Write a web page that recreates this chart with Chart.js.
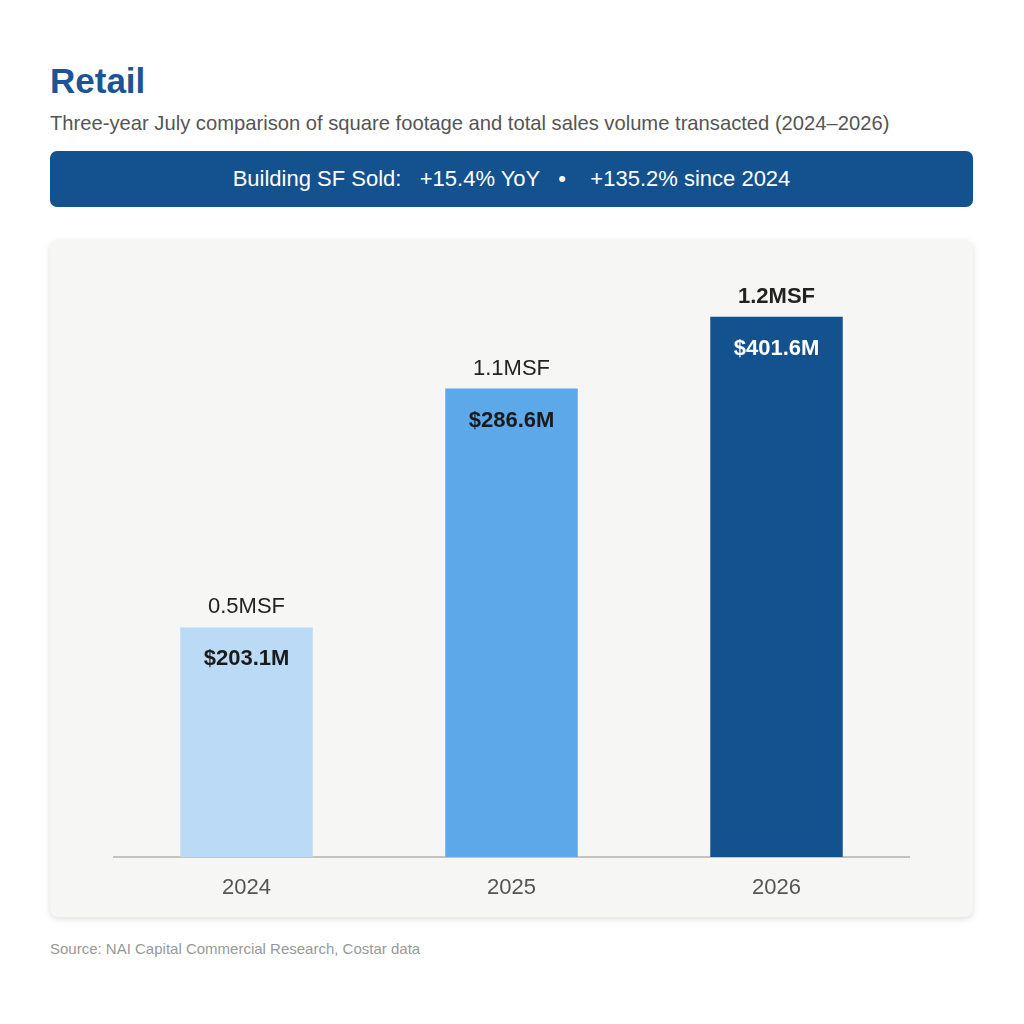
<!DOCTYPE html>
<html>
<head>
<meta charset="utf-8">
<script src="https://cdn.jsdelivr.net/npm/chart.js@4.4.1/dist/chart.umd.min.js"></script>
<style>
  body { margin: 0; background: #ffffff; font-family: "Liberation Sans", Arial, sans-serif; }
  .title { position: absolute; left: 50px; top: 63px; font-size: 35px; line-height: 1; font-weight: bold; color: #1b5596; }
  .subtitle { position: absolute; left: 50px; top: 113px; font-size: 20.2px; line-height: 1; color: #555555; }
  .banner {
    position: absolute; left: 50px; top: 151px; width: 923px; height: 56px;
    background: #13528f; border-radius: 7px; color: #ffffff; font-size: 22px;
    display: flex; align-items: center; justify-content: center; white-space: pre;
  }
  .panel {
    position: absolute; left: 50px; top: 240px; width: 923px; height: 677px;
    background: #f6f6f4; border-radius: 8px; box-shadow: 0 2px 6px rgba(0,0,0,0.13);
  }
  .panel canvas { position: absolute; left: 0; top: 0; }
  .source { position: absolute; left: 50px; top: 941px; font-size: 15px; line-height: 1; color: #999999; }
</style>
</head>
<body>
<div class="title">Retail</div>
<div class="subtitle">Three-year July comparison of square footage and total sales volume transacted (2024–2026)</div>
<div class="banner">Building SF Sold:   +15.4% YoY   •    +135.2% since 2024</div>
<div class="panel"><canvas id="chart" width="923" height="677"></canvas></div>
<div class="source">Source: NAI Capital Commercial Research, Costar data</div>

<script>
const years = ["2024", "2025", "2026"];
const sfSold = [0.527, 1.075, 1.24];          // million square feet
const sfLabels = ["0.5MSF", "1.1MSF", "1.2MSF"];
const salesVolume = ["$203.1M", "$286.6M", "$401.6M"];
const barColors = ["#bbdaf5", "#5ca8e8", "#13528f"];
const innerColors = ["#1a1a1a", "#1a1a1a", "#ffffff"];

const FONT = '"Liberation Sans", Arial, sans-serif';

// labels above and inside each bar
const barLabels = {
  id: "barLabels",
  afterDatasetsDraw(chart) {
    const ctx = chart.ctx;
    const meta = chart.getDatasetMeta(0);
    ctx.save();
    ctx.textAlign = "center";
    ctx.textBaseline = "middle";
    meta.data.forEach((bar, i) => {
      const last = i === meta.data.length - 1;
      ctx.font = (last ? "bold " : "") + "22px " + FONT;
      ctx.fillStyle = "#222222";
      ctx.fillText(sfLabels[i], bar.x, bar.y - 20);
      ctx.font = "bold 22px " + FONT;
      ctx.fillStyle = innerColors[i];
      ctx.fillText(salesVolume[i], bar.x, bar.y + 32);
    });
    ctx.restore();
  }
};

new Chart(document.getElementById("chart"), {
  type: "bar",
  data: {
    labels: years,
    datasets: [{
      data: sfSold,
      backgroundColor: barColors,
      borderWidth: 0,
      categoryPercentage: 1,
      barPercentage: 0.5
    }]
  },
  options: {
    responsive: false,
    animation: false,
    layout: { padding: { left: 64, right: 64, top: 7, bottom: 0 } },
    plugins: { legend: { display: false }, tooltip: { enabled: false } },
    scales: {
      x: {
        grid: { display: false, drawTicks: false },
        border: { display: true, color: "#c4c4bc", width: 2 },
        ticks: { color: "#555555", font: { family: FONT, size: 22 }, padding: 18 },
        afterFit(scale) { scale.height = 60; }
      },
      y: { display: false, min: 0, max: 1.4 }
    }
  },
  plugins: [barLabels]
});
</script>
</body>
</html>
